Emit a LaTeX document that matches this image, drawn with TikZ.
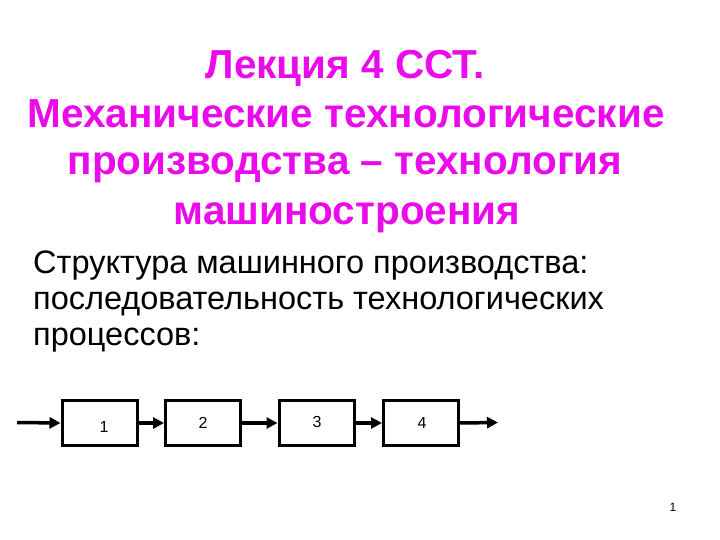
\documentclass[tikz,border=0pt]{standalone}
\usepackage{fontspec}
\setmainfont{Liberation Sans}
\usetikzlibrary{arrows.meta}
\definecolor{titlemag}{RGB}{235,10,235}
\tikzset{
  title/.style={text=titlemag, font=\bfseries\fontsize{40.5}{48}\selectfont, inner sep=0pt, anchor=base},
  body/.style={text=black, font=\fontsize{32.5}{38}\selectfont, inner sep=0pt, anchor=base west},
  stepbox/.style={draw=black, line width=3pt, minimum width=75pt, minimum height=45pt, inner sep=0pt},
  lbl/.style={font=\fontsize{16}{18}\selectfont, inner sep=0pt},
  flow/.style={line width=3.5pt, -{Triangle[length=11pt,width=11pt]}}
}
\begin{document}
\begin{tikzpicture}[x=1pt,y=-1pt]
\useasboundingbox (0,0) rectangle (720,540);
\node[title] (t1) at (345,79) {Лекция 4 ССТ.};
\node[title] (t2) at (346,128) {Механические технологические};
\node[title] (t3) at (345,175) {производства – технология};
\node[title] (t4) at (347,225) {машиностроения};
\node[body] (b1) at (33,273) {Структура машинного производства:};
\node[body] (b2) at (33,309) {последовательность технологических};
\node[body] (b3) at (33,345) {процессов:};
\node[stepbox] (s1) at (99.5,423) {};
\node[stepbox] (s2) at (203,423) {};
\node[stepbox] (s3) at (316.5,423) {};
\node[stepbox] (s4) at (421,423) {};
\node[lbl] (l1) at (104,427) {1};
\node[lbl] (l2) at (203,423) {2};
\node[lbl] (l3) at (317,422) {3};
\node[lbl] (l4) at (422,423) {4};
\coordinate (in) at (17,422.5);
\coordinate (out) at (498,422.5);
\draw[flow] (in) -- (s1.west);
\draw[flow] (s1.east) -- (s2.west);
\draw[flow] (s2.east) -- (s3.west);
\draw[flow] (s3.east) -- (s4.west);
\draw[flow] (s4.east) -- (out);
\node[font=\fontsize{12}{14}\selectfont, inner sep=0pt] (pg) at (673,507) {1};
\end{tikzpicture}
\end{document}
